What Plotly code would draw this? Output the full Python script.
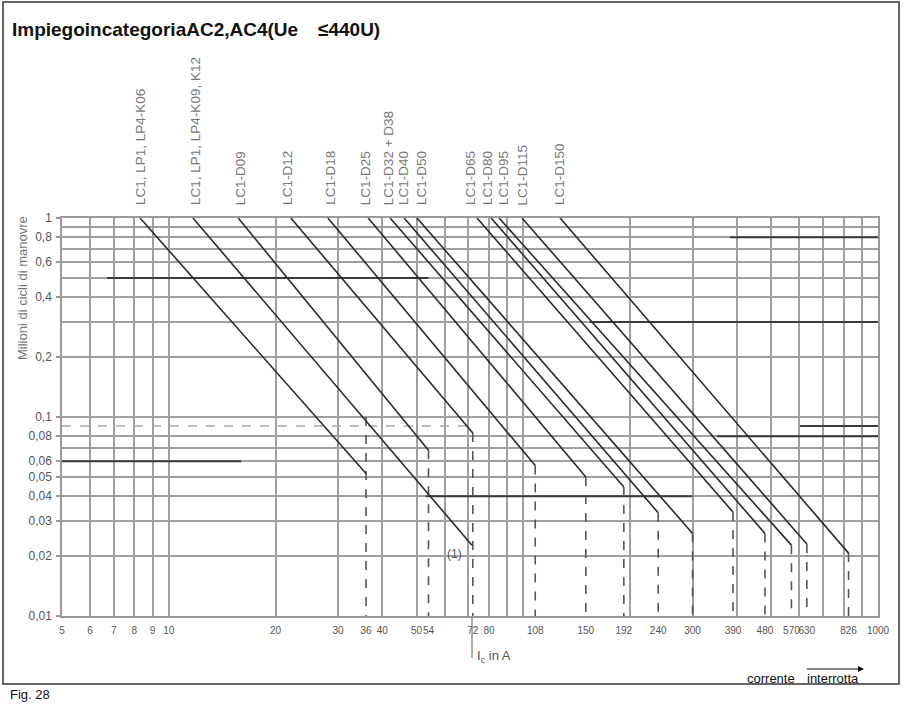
import numpy as np
import plotly.graph_objects as go

# ---------------- data ----------------
series_names = ["LC1, LP1, LP4-K06", "LC1, LP1, LP4-K09, K12", "LC1-D09", "LC1-D12",
                "LC1-D18", "LC1-D25", "LC1-D32 + D38", "LC1-D40", "LC1-D50",
                "LC1-D65", "LC1-D80", "LC1-D95", "LC1-D115", "LC1-D150"]
# current (A) at 1 million cycles
start_current = [8.3, 11.7, 15.7, 22.1, 28.1, 36.5, 42.1, 46.1, 50.1, 74.0, 81.1, 85.4, 99.1, 126.9]
# end point of each solid line
end_current = [36, 71.6, 54, 72, 108, 150, 192, 240, 300, 390, 480, 570, 630, 826]
end_cycles = [0.052, 0.0227, 0.068, 0.083, 0.057, 0.050, 0.0445, 0.033, 0.026,
              0.0333, 0.026, 0.0227, 0.023, 0.0207]
# dashed cut-off verticals
cutoff_current = [36, 54, 72, 108, 150, 192, 240, 300, 390, 480, 570, 630, 826]
cutoff_top = [0.1, 0.068, 0.083, 0.057, 0.050, 0.0445, 0.033, 0.026, 0.0333,
              0.026, 0.0227, 0.023, 0.0207]

x_ticks = [5, 6, 7, 8, 9, 10, 20, 30, 36, 40, 50, 54, 72, 80, 108, 150, 192, 240,
           300, 390, 480, 570, 630, 826, 1000]
y_ticks = [1, 0.8, 0.6, 0.4, 0.2, 0.1, 0.08, 0.06, 0.05, 0.04, 0.03, 0.02, 0.01]
y_tick_text = ["1", "0,8", "0,6", "0,4", "0,2", "0,1", "0,08", "0,06", "0,05",
               "0,04", "0,03", "0,02", "0,01"]
x_grid = [5, 6, 7, 8, 9, 10, 20, 30, 40, 50, 60, 70, 80, 90, 100,
          200, 300, 400, 500, 600, 700, 800, 900, 1000]
y_grid = [1, 0.9, 0.8, 0.7, 0.6, 0.5, 0.4, 0.3, 0.2, 0.1, 0.08, 0.07, 0.06,
          0.05, 0.04, 0.03, 0.02, 0.01]
# darker printed portions of some horizontal grid lines: (level, from, to)
dark_levels = [0.5, 0.06, 0.04, 0.3, 0.8, 0.08, 0.09]
dark_from = [6.7, 5, 53, 154, 383, 352, 603]
dark_to = [54, 16, 300, 1000, 1000, 1000, 1000]
dashed_level = 0.09
dashed_from, dashed_to = 5, 72

# small horizontal nudges (px) of the rotated labels
label_shift = [0, 2, 2, -4, 2, -3, -2, -1, 4, -7, -4, 4, 1, -1]

# ---------------- geometry helpers (layout pixels) ----------------
W, H = 903, 709
L, R, T, B = 62, 878, 218, 616


def px(xp):
    return (xp - L) / (R - L)


def py(yp):
    return (B - yp) / (B - T)


FONT = "Liberation Sans, Arial, sans-serif"
fig = go.Figure()

# darker grid segments
for lv, a, b in zip(dark_levels, dark_from, dark_to):
    fig.add_trace(go.Scatter(x=[a, b], y=[lv, lv], mode="lines",
                             line=dict(color="#3a3a3a", width=2),
                             hoverinfo="skip", showlegend=False))
fig.add_trace(go.Scatter(x=[dashed_from, dashed_to], y=[dashed_level, dashed_level],
                         mode="lines", line=dict(color="#aaaaaa", width=1.5, dash="dash"),
                         hoverinfo="skip", showlegend=False))

# dashed cut-off lines
for c, top in zip(cutoff_current, cutoff_top):
    fig.add_trace(go.Scatter(x=[c, c], y=[top, 0.01], mode="lines",
                             line=dict(color="#555555", width=1.6, dash="dash"),
                             hoverinfo="skip", showlegend=False))

# durability lines
for name, s, e, ey in zip(series_names, start_current, end_current, end_cycles):
    fig.add_trace(go.Scatter(x=[s, e], y=[1, ey], mode="lines", name=name,
                             line=dict(color="#2a2a2a", width=1.6),
                             showlegend=False))

annotations = []
# rotated labels above the lines
for name, s, sh in zip(series_names, start_current, label_shift):
    annotations.append(dict(x=np.log10(s), y=py(207), xref="x", yref="paper",
                            text=name, textangle=-90, showarrow=False, xshift=sh,
                            xanchor="center", yanchor="bottom",
                            font=dict(family=FONT, size=13.5, color="#777777")))
# note (1)
annotations.append(dict(x=np.log10(64), y=np.log10(0.0205), xref="x", yref="y",
                        text="(1)", showarrow=False,
                        font=dict(family=FONT, size=12, color="#555555")))
# title
annotations.append(dict(x=px(10), y=py(29), xref="paper", yref="paper",
                        text="<b>ImpiegoincategoriaAC2,AC4(Ue</b>", showarrow=False,
                        xanchor="left", yanchor="middle",
                        font=dict(family=FONT, size=19, color="#111111")))
annotations.append(dict(x=px(316), y=py(29), xref="paper", yref="paper",
                        text="<b>≤440U)</b>", showarrow=False,
                        xanchor="left", yanchor="middle",
                        font=dict(family=FONT, size=19, color="#111111")))
# y-axis title
annotations.append(dict(x=px(22), y=py(288), xref="paper", yref="paper",
                        text="Milioni di cicli di manovre", textangle=-90,
                        showarrow=False, xanchor="center", yanchor="middle",
                        font=dict(family=FONT, size=13, color="#777777")))
# x-axis title
annotations.append(dict(x=px(475), y=py(656), xref="paper", yref="paper",
                        text="I<sub>c</sub> in A", showarrow=False,
                        xanchor="left", yanchor="middle",
                        font=dict(family=FONT, size=13, color="#555555")))
# corrente interrotta
annotations.append(dict(x=px(745), y=py(678), xref="paper", yref="paper",
                        text="corrente", showarrow=False, xanchor="left", yanchor="middle",
                        font=dict(family=FONT, size=13, color="#111111")))
annotations.append(dict(x=px(805), y=py(678), xref="paper", yref="paper",
                        text="interrotta", showarrow=False, xanchor="left", yanchor="middle",
                        font=dict(family=FONT, size=13, color="#111111")))
annotations.append(dict(x=px(864), y=py(669), xref="paper", yref="paper",
                        text="", showarrow=True, ax=-59, ay=0,
                        arrowhead=2, arrowsize=1, arrowwidth=1.2, arrowcolor="#111111"))
# Fig. 28
annotations.append(dict(x=px(8), y=py(694), xref="paper", yref="paper",
                        text="Fig. 28", showarrow=False, xanchor="left", yanchor="middle",
                        font=dict(family=FONT, size=13, color="#111111")))

shapes = [
    dict(type="rect", xref="paper", yref="paper", x0=px(3), x1=px(899),
         y0=py(684), y1=py(2), line=dict(color="#333333", width=1.5)),
    dict(type="line", xref="paper", yref="paper", x0=px(472), x1=px(472),
         y0=py(658), y1=py(617), line=dict(color="#777777", width=1.2)),
]

fig.update_layout(
    width=W, height=H,
    margin=dict(l=L, r=W - R, t=T, b=H - B, pad=0),
    paper_bgcolor="white", plot_bgcolor="white",
    annotations=annotations, shapes=shapes,
    xaxis=dict(type="log", range=[np.log10(5), 3], tickvals=x_ticks,
               ticktext=[str(v) for v in x_ticks], showgrid=False,
               ticks="", ticklabelstandoff=4, tickangle=0,
               tickfont=dict(family=FONT, size=10, color="#555555"),
               showline=True, linecolor="#999999", linewidth=1.5, mirror=True,
               minor=dict(tickvals=x_grid, showgrid=True, gridcolor="#9f9f9f",
                          gridwidth=1.5, ticks="")),
    yaxis=dict(type="log", range=[-2, 0], tickvals=y_ticks, ticktext=y_tick_text,
               showgrid=False, ticks="outside", ticklen=4, tickcolor="#999999",
               tickwidth=1.5, ticklabelstandoff=2,
               tickfont=dict(family=FONT, size=12, color="#555555"),
               showline=True, linecolor="#999999", linewidth=1.5, mirror=True,
               minor=dict(tickvals=y_grid, showgrid=True, gridcolor="#9f9f9f",
                          gridwidth=1.5, ticks="")),
)

fig.write_html("out.html", config={"displayModeBar": False},
               post_script="document.body.style.margin='0';")
